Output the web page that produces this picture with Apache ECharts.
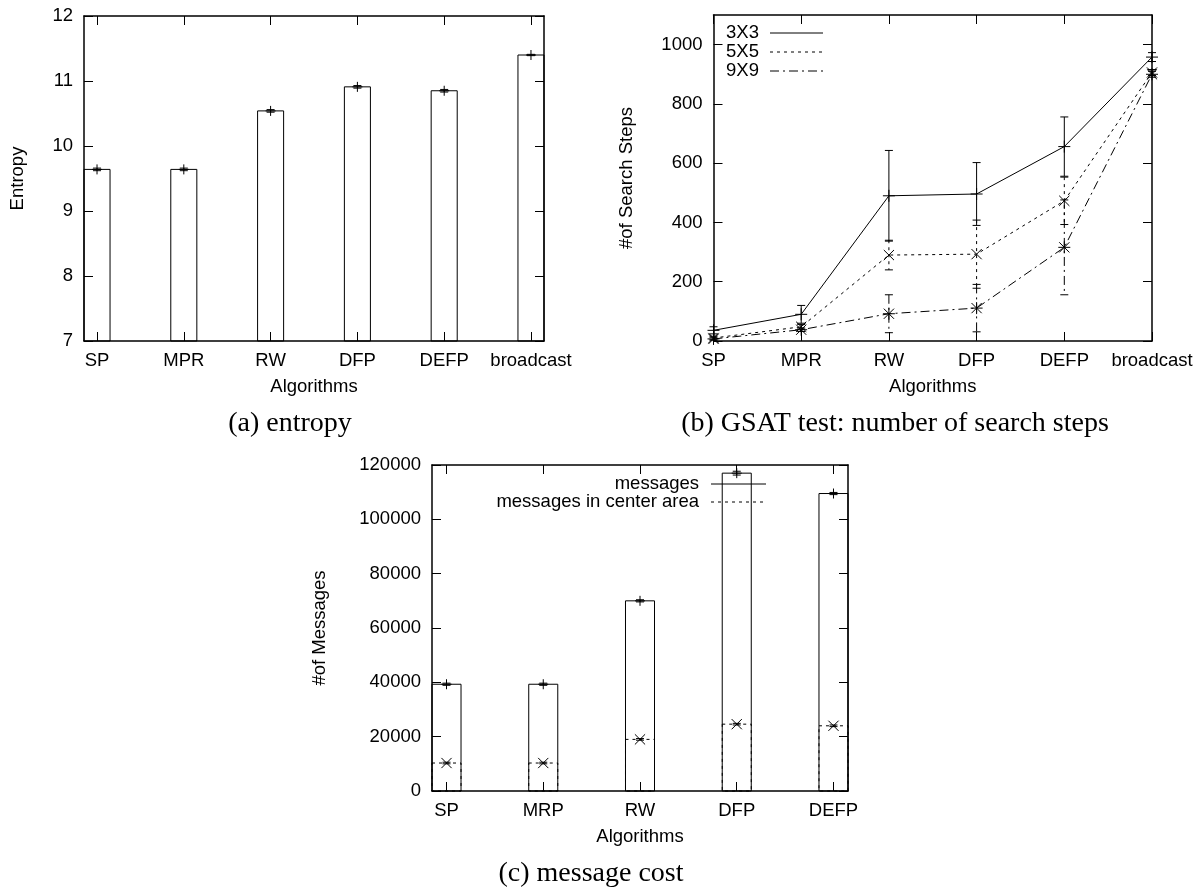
<!DOCTYPE html>
<html>
<head>
<meta charset="utf-8">
<title>entropy / GSAT / message cost</title>
<script src="https://cdn.jsdelivr.net/npm/echarts@6/dist/echarts.min.js"></script>
<style>
  html, body { margin: 0; padding: 0; background: #fff; }
  #chart { width: 1201px; height: 888px; }
</style>
</head>
<body>
<div id="chart"></div>
<script>
// (a) entropy
const entropyCats = ['SP', 'MPR', 'RW', 'DFP', 'DEFP', 'broadcast']
const entropyValues = [9.64, 9.64, 10.54, 10.91, 10.85, 11.40]
const entropyErrors = [0.02, 0.02, 0.02, 0.02, 0.02, 0.01]
const entropyTicks = [7, 8, 9, 10, 11, 12]

// (b) GSAT test
const gsatCats = ['SP', 'MPR', 'RW', 'DFP', 'DEFP', 'broadcast']
const steps3x3 = [36, 90, 490, 496, 656, 958]
const err3x3 = [12, 30, 153, 106, 100, 15]
const steps5x5 = [10, 48, 290, 293, 473, 906]
const err5x5 = [6, 8, 50, 115, 80, 10]
const steps9x9 = [7, 38, 92, 111, 316, 900]
const err9x9 = [4, 6, 64, 80, 160, 10]
const stepTicks = [0, 200, 400, 600, 800, 1000]

// (c) message cost
const msgCats = ['SP', 'MRP', 'RW', 'DFP', 'DEFP']
const messages = [39300, 39300, 70000, 117000, 109500]
const messagesErr = [400, 400, 400, 700, 400]
const centerMessages = [10300, 10300, 19000, 24600, 24000]
const centerErr = [300, 300, 300, 300, 300]
const msgTicks = [0, 20000, 40000, 60000, 80000, 100000, 120000]

const FONT = 'Liberation Sans'
const FS = 18.5
const BAR_HALF = 0.15

const toPoints = (vals, errs) => vals.map((v, i) => errs ? [i, v, errs[i]] : [i, v])
const range = n => Array.from({ length: n }, (_, i) => i)

function segs(list, style) {
  return list.map(s => ({
    type: 'line',
    shape: { x1: s[0], y1: s[1], x2: s[2], y2: s[3] },
    style: style
  }))
}

function marker(kind, cx, cy, r) {
  const out = []
  if (kind === 'plus' || kind === 'star') {
    out.push([cx - r, cy, cx + r, cy], [cx, cy - r, cx, cy + r])
  }
  if (kind === 'cross' || kind === 'star') {
    const d = r * 0.85
    out.push([cx - d, cy - d, cx + d, cy + d], [cx - d, cy + d, cx + d, cy - d])
  }
  return segs(out, { stroke: '#000', lineWidth: 1 })
}

// outlined box from axis bottom up to the value
function boxItem(yBase, dash) {
  return function (params, api) {
    const x = api.value(0), v = api.value(1)
    const p0 = api.coord([x - BAR_HALF, v])
    const p1 = api.coord([x + BAR_HALF, yBase])
    return {
      type: 'rect',
      shape: { x: p0[0], y: p0[1], width: p1[0] - p0[0], height: p1[1] - p0[1] },
      style: { fill: null, stroke: '#000', lineWidth: 1, lineDash: dash || null }
    }
  }
}

// error bar + point symbol
function errorItem(kind, dash, r) {
  return function (params, api) {
    const x = api.value(0), v = api.value(1), e = api.value(2)
    const top = api.coord([x, v + e])
    const bot = api.coord([x, v - e])
    const mid = api.coord([x, v])
    const cap = 4
    let children = segs([[top[0], top[1], bot[0], bot[1]]],
      { stroke: '#000', lineWidth: 1, lineDash: dash || null })
    children = children.concat(segs([
      [top[0] - cap, top[1], top[0] + cap, top[1]],
      [bot[0] - cap, bot[1], bot[0] + cap, bot[1]]
    ], { stroke: '#000', lineWidth: 1 }))
    children = children.concat(marker(kind, mid[0], mid[1], r))
    return { type: 'group', children: children }
  }
}

function xAxisPair(grid, min, max, cats) {
  const ticks = range(cats.length)
  const base = {
    gridIndex: grid, type: 'value', min: min, max: max,
    axisLine: { show: true, onZero: false, lineStyle: { color: '#000', width: 1.5 } },
    splitLine: { show: false },
    axisTick: { show: true, inside: true, length: 9, customValues: ticks, lineStyle: { color: '#000' } }
  }
  return [
    Object.assign({}, base, {
      position: 'bottom',
      name: 'Algorithms', nameLocation: 'middle', nameGap: 36,
      nameTextStyle: { fontFamily: FONT, fontSize: FS, color: '#000' },
      axisLabel: {
        show: true, customValues: ticks, margin: 10,
        fontFamily: FONT, fontSize: FS, color: '#000',
        formatter: v => cats[Math.round(v)]
      }
    }),
    Object.assign({}, base, { position: 'top', axisLabel: { show: false } })
  ]
}

function yAxisPair(grid, min, max, ticks, name, gap) {
  const base = {
    gridIndex: grid, type: 'value', min: min, max: max,
    axisLine: { show: true, onZero: false, lineStyle: { color: '#000', width: 1.5 } },
    splitLine: { show: false },
    axisTick: { show: true, inside: true, length: 9, customValues: ticks, lineStyle: { color: '#000' } }
  }
  return [
    Object.assign({}, base, {
      position: 'left',
      name: name, nameLocation: 'middle', nameGap: gap,
      nameTextStyle: { fontFamily: FONT, fontSize: FS, color: '#000' },
      axisLabel: {
        show: true, customValues: ticks, margin: 11,
        fontFamily: FONT, fontSize: FS, color: '#000',
        formatter: v => String(v)
      }
    }),
    Object.assign({}, base, { position: 'right', axisLabel: { show: false } })
  ]
}

const legendText = (x, y, text, align) => ({
  type: 'text', x: x, y: y,
  style: { text: text, fontFamily: FONT, fontSize: FS, fill: '#000', align: align, verticalAlign: 'middle' }
})
const legendLine = (x1, x2, y, dash) => ({
  type: 'line', shape: { x1: x1, y1: y, x2: x2, y2: y },
  style: { stroke: '#000', lineWidth: 1, lineDash: dash || null }
})
const caption = (x, y, text) => ({
  type: 'text', x: x, y: y,
  style: { text: text, fontFamily: 'Liberation Serif', fontSize: 28, fill: '#000', align: 'center', verticalAlign: 'middle' }
})

const DASH_5 = [3, 4]
const DASH_9 = [9, 4, 2, 4]

const option = {
  animation: false,
  backgroundColor: '#fff',
  grid: [
    { left: 84, top: 16, width: 460, height: 325 },
    { left: 713.5, top: 15, width: 438.5, height: 326 },
    { left: 432, top: 465, width: 416, height: 326 }
  ],
  xAxis: [].concat(
    xAxisPair(0, -0.15, 5.15, entropyCats),
    xAxisPair(1, 0, 5, gsatCats),
    xAxisPair(2, -0.15, 4.15, msgCats)
  ),
  yAxis: [].concat(
    yAxisPair(0, 7, 12, entropyTicks, 'Entropy', 57),
    yAxisPair(1, 0, 1100, stepTicks, '#of Search Steps', 77),
    yAxisPair(2, 0, 120000, msgTicks, '#of Messages', 103)
  ),
  series: [
    // (a)
    { type: 'custom', name: 'entropy', xAxisIndex: 0, yAxisIndex: 0, clip: false,
      renderItem: boxItem(7), data: toPoints(entropyValues) },
    { type: 'custom', name: 'entropy err', xAxisIndex: 0, yAxisIndex: 0, clip: false,
      renderItem: errorItem('plus', null, 5), data: toPoints(entropyValues, entropyErrors) },
    // (b)
    { type: 'line', name: '3X3', xAxisIndex: 2, yAxisIndex: 2, symbol: 'none',
      lineStyle: { color: '#000', width: 1 }, data: toPoints(steps3x3) },
    { type: 'line', name: '5X5', xAxisIndex: 2, yAxisIndex: 2, symbol: 'none',
      lineStyle: { color: '#000', width: 1, type: DASH_5 }, data: toPoints(steps5x5) },
    { type: 'line', name: '9X9', xAxisIndex: 2, yAxisIndex: 2, symbol: 'none',
      lineStyle: { color: '#000', width: 1, type: DASH_9 }, data: toPoints(steps9x9) },
    { type: 'custom', name: '3X3 err', xAxisIndex: 2, yAxisIndex: 2, clip: false,
      renderItem: errorItem('plus', null, 6), data: toPoints(steps3x3, err3x3) },
    { type: 'custom', name: '5X5 err', xAxisIndex: 2, yAxisIndex: 2, clip: false,
      renderItem: errorItem('cross', DASH_5, 6), data: toPoints(steps5x5, err5x5) },
    { type: 'custom', name: '9X9 err', xAxisIndex: 2, yAxisIndex: 2, clip: false,
      renderItem: errorItem('star', DASH_9, 6), data: toPoints(steps9x9, err9x9) },
    // (c)
    { type: 'custom', name: 'messages', xAxisIndex: 4, yAxisIndex: 4, clip: false,
      renderItem: boxItem(0), data: toPoints(messages) },
    { type: 'custom', name: 'messages in center area', xAxisIndex: 4, yAxisIndex: 4, clip: false,
      renderItem: boxItem(0, DASH_5), data: toPoints(centerMessages) },
    { type: 'custom', name: 'messages err', xAxisIndex: 4, yAxisIndex: 4, clip: false,
      renderItem: errorItem('plus', null, 5), data: toPoints(messages, messagesErr) },
    { type: 'custom', name: 'center err', xAxisIndex: 4, yAxisIndex: 4, clip: false,
      renderItem: errorItem('cross', null, 6), data: toPoints(centerMessages, centerErr) }
  ],
  graphic: [
    // legend (b)
    legendText(726, 33, '3X3', 'left'),
    legendLine(770, 823, 33),
    legendText(726, 52, '5X5', 'left'),
    legendLine(770, 823, 52, DASH_5),
    legendText(726, 71, '9X9', 'left'),
    legendLine(770, 823, 71, DASH_9),
    // legend (c)
    legendText(699, 484, 'messages', 'right'),
    legendLine(711, 766, 484),
    legendText(699, 502, 'messages in center area', 'right'),
    legendLine(711, 766, 502, DASH_5),
    // captions
    caption(290, 424, '(a) entropy'),
    caption(895, 424, '(b) GSAT test: number of search steps'),
    caption(591, 874, '(c) message cost')
  ]
}

const chart = echarts.init(document.getElementById('chart'))
chart.setOption(option)
</script>
</body>
</html>
